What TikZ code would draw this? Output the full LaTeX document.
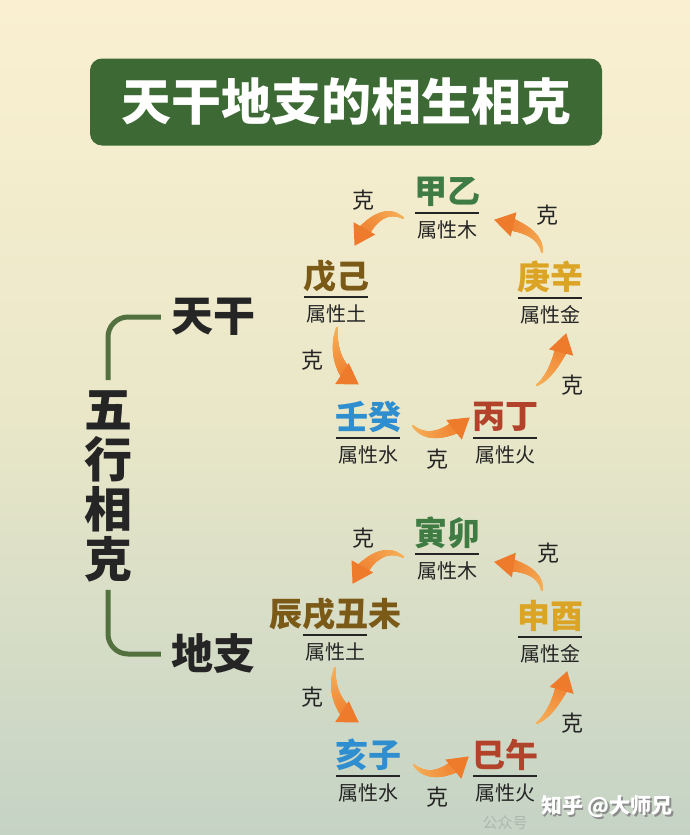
\documentclass[tikz,border=0pt]{standalone}
\usepackage{fontspec}
\setmainfont{Noto Sans CJK SC}
\usetikzlibrary{calc,decorations.markings}
\definecolor{bgtop}{HTML}{FAF0D1}
\definecolor{bgmid}{HTML}{E9E7C8}
\definecolor{bgbot}{HTML}{C5D3C5}
\definecolor{titlegreen}{HTML}{3D6A34}
\definecolor{brgreen}{HTML}{52713F}
\definecolor{cwood}{HTML}{3F7C43}
\definecolor{cearth}{HTML}{7B5917}
\definecolor{cmetal}{HTML}{DCA424}
\definecolor{cwater}{HTML}{2F8ECF}
\definecolor{cfire}{HTML}{B2432A}
\definecolor{arrA}{HTML}{F6B25A}
\definecolor{arrB}{HTML}{EE7A2C}
\definecolor{ink}{HTML}{252525}

\newcommand\elemnode[6]{%
  \node[elem, text=#4] (#1) at (#2,#3) {#5};
  \node[subtxt] (#1s) at (#2,#3+38) {#6};
  \draw[elemrule] ($(#1)+(-32,21)$) -- ($(#1)+(32,21)$);
}

\begin{document}
\begin{tikzpicture}[x=1pt,y=-1pt,
  elem/.style={font=\fontsize{33}{33}\selectfont\bfseries, inner sep=0pt},
  subtxt/.style={font=\fontsize{20}{20}\selectfont, text=ink, inner sep=0pt},
  ketxt/.style={font=\fontsize{22}{22}\selectfont, text=ink, inner sep=0pt},
  elemrule/.style={draw=ink, line width=1.4pt},
  bigtxt/.style={font=\fontsize{42}{42}\selectfont\bfseries, text=ink, inner sep=0pt},
  bracketline/.style={draw=brgreen, line width=5pt, rounded corners=20pt},
  kearrow/.style={postaction={decorate}, decoration={markings,
    mark=between positions 0 and -15pt step 0.4pt with {%
      \pgfmathsetmacro\kfrac{\pgfkeysvalueof{/pgf/decoration/mark info/distance from start}/\pgfdecoratedpathlength}%
      \pgfmathsetmacro\krad{1.2+6.8*\kfrac}%
      \pgfmathtruncatemacro\kpct{100*\kfrac}%
      \fill[arrB!\kpct!arrA] (0,0) circle (\krad pt);},
    mark=at position 1 with {\fill[arrB] (1pt,0pt) -- (-19pt,12.5pt) -- (-19pt,-12.5pt) -- cycle;}}}
]
% background
\fill[top color=bgtop, bottom color=bgbot, middle color=bgmid] (0,0) rectangle (690,835);
\useasboundingbox (0,0) rectangle (690,835);

% title
\node[fill=titlegreen, rounded corners=12pt, minimum width=512pt, minimum height=87pt,
      text=white, font=\fontsize{50}{50}\selectfont\bfseries, inner sep=0pt] (title) at (346,102) {天干地支的相生相克};

% left labels
\node[bigtxt] (tg) at (213,317) {天干};
\node[bigtxt] (dz) at (213,654) {地支};
\node[inner sep=0pt, text=ink, font=\fontsize{48}{50}\selectfont\bfseries, align=center] (wx) at (108,486) {五\\行\\相\\克};
\draw[bracketline] ($(wx.north)+(0,-10)$) |- ($(tg.west)+(-10,0)$);
\draw[bracketline] ($(wx.south)+(0,8)$) |- ($(dz.west)+(-10,0)$);

% upper cycle (天干)
\elemnode{jy}{447}{192}{cwood}{甲乙}{属性木}
\elemnode{wj}{336}{276}{cearth}{戊己}{属性土}
\elemnode{gx}{550}{277}{cmetal}{庚辛}{属性金}
\elemnode{rg}{368}{417}{cwater}{壬癸}{属性水}
\elemnode{bd}{505}{417}{cfire}{丙丁}{属性火}

\node[ketxt] (k1) at (363,200) {克};
\node[ketxt] (k2) at (547,215) {克};
\node[ketxt] (k3) at (312,360) {克};
\node[ketxt] (k4) at (572,385) {克};
\node[ketxt] (k5) at (437,459) {克};

\path[kearrow] ($(jy)+(-44,26)$) .. controls ($(jy)+(-62,14)$) and ($(wj)+(32,-54)$) .. ($(wj)+(19,-31)$);
\path[kearrow] ($(gx)+(-8,-25)$) .. controls ($(gx)+(-10,-44)$) and ($(jy)+(73,34)$) .. ($(jy)+(48,28)$);
\path[kearrow] ($(wj)+(1,52)$) .. controls ($(wj)+(-4,76)$) and ($(rg)+(-27,-44)$) .. ($(rg)+(-10,-33)$);
\path[kearrow] ($(rg)+(45,9)$) .. controls ($(rg)+(60,25)$) and ($(bd)+(-55,16)$) .. ($(bd)+(-36,1)$);
\path[kearrow] ($(bd)+(32,-32)$) .. controls ($(bd)+(45,-40)$) and ($(gx)+(10,80)$) .. ($(gx)+(16,57)$);

% lower cycle (地支)
\elemnode{ym}{447}{533}{cwood}{寅卯}{属性木}
\elemnode{cx}{335}{614}{cearth}{辰戌丑未}{属性土}
\elemnode{sy}{550}{616}{cmetal}{申酉}{属性金}
\elemnode{hz}{368}{755}{cwater}{亥子}{属性水}
\elemnode{sw}{505}{755}{cfire}{巳午}{属性火}

\node[ketxt] (k6) at (363,538) {克};
\node[ketxt] (k7) at (548,553) {克};
\node[ketxt] (k8) at (312,697) {克};
\node[ketxt] (k9) at (572,723) {克};
\node[ketxt] (k10) at (437,797) {克};

\path[kearrow] ($(ym)+(-44,24)$) .. controls ($(ym)+(-62,12)$) and ($(cx)+(31,-54)$) .. ($(cx)+(18,-31)$);
\path[kearrow] ($(sy)+(-8,-26)$) .. controls ($(sy)+(-10,-45)$) and ($(ym)+(73,33)$) .. ($(ym)+(48,29)$);
\path[kearrow] ($(cx)+(0,54)$) .. controls ($(cx)+(-5,78)$) and ($(hz)+(-27,-44)$) .. ($(hz)+(-10,-33)$);
\path[kearrow] ($(hz)+(46,10)$) .. controls ($(hz)+(61,26)$) and ($(sw)+(-55,17)$) .. ($(sw)+(-37,2)$);
\path[kearrow] ($(sw)+(32,-32)$) .. controls ($(sw)+(45,-40)$) and ($(sy)+(10,80)$) .. ($(sy)+(17,56)$);

% watermark
\node[inner sep=0pt, text=gray, opacity=0.35, font=\fontsize{15}{15}\selectfont] (wm1) at (505,823) {公众号};
\node[inner sep=0pt, text=black!45, font=\fontsize{21}{21}\selectfont\bfseries] at (608.5,808.5) {知乎 @大师兄};
\node[inner sep=0pt, text=white, font=\fontsize{21}{21}\selectfont\bfseries] (wm2) at (607,807) {知乎 @大师兄};
\end{tikzpicture}
\end{document}
